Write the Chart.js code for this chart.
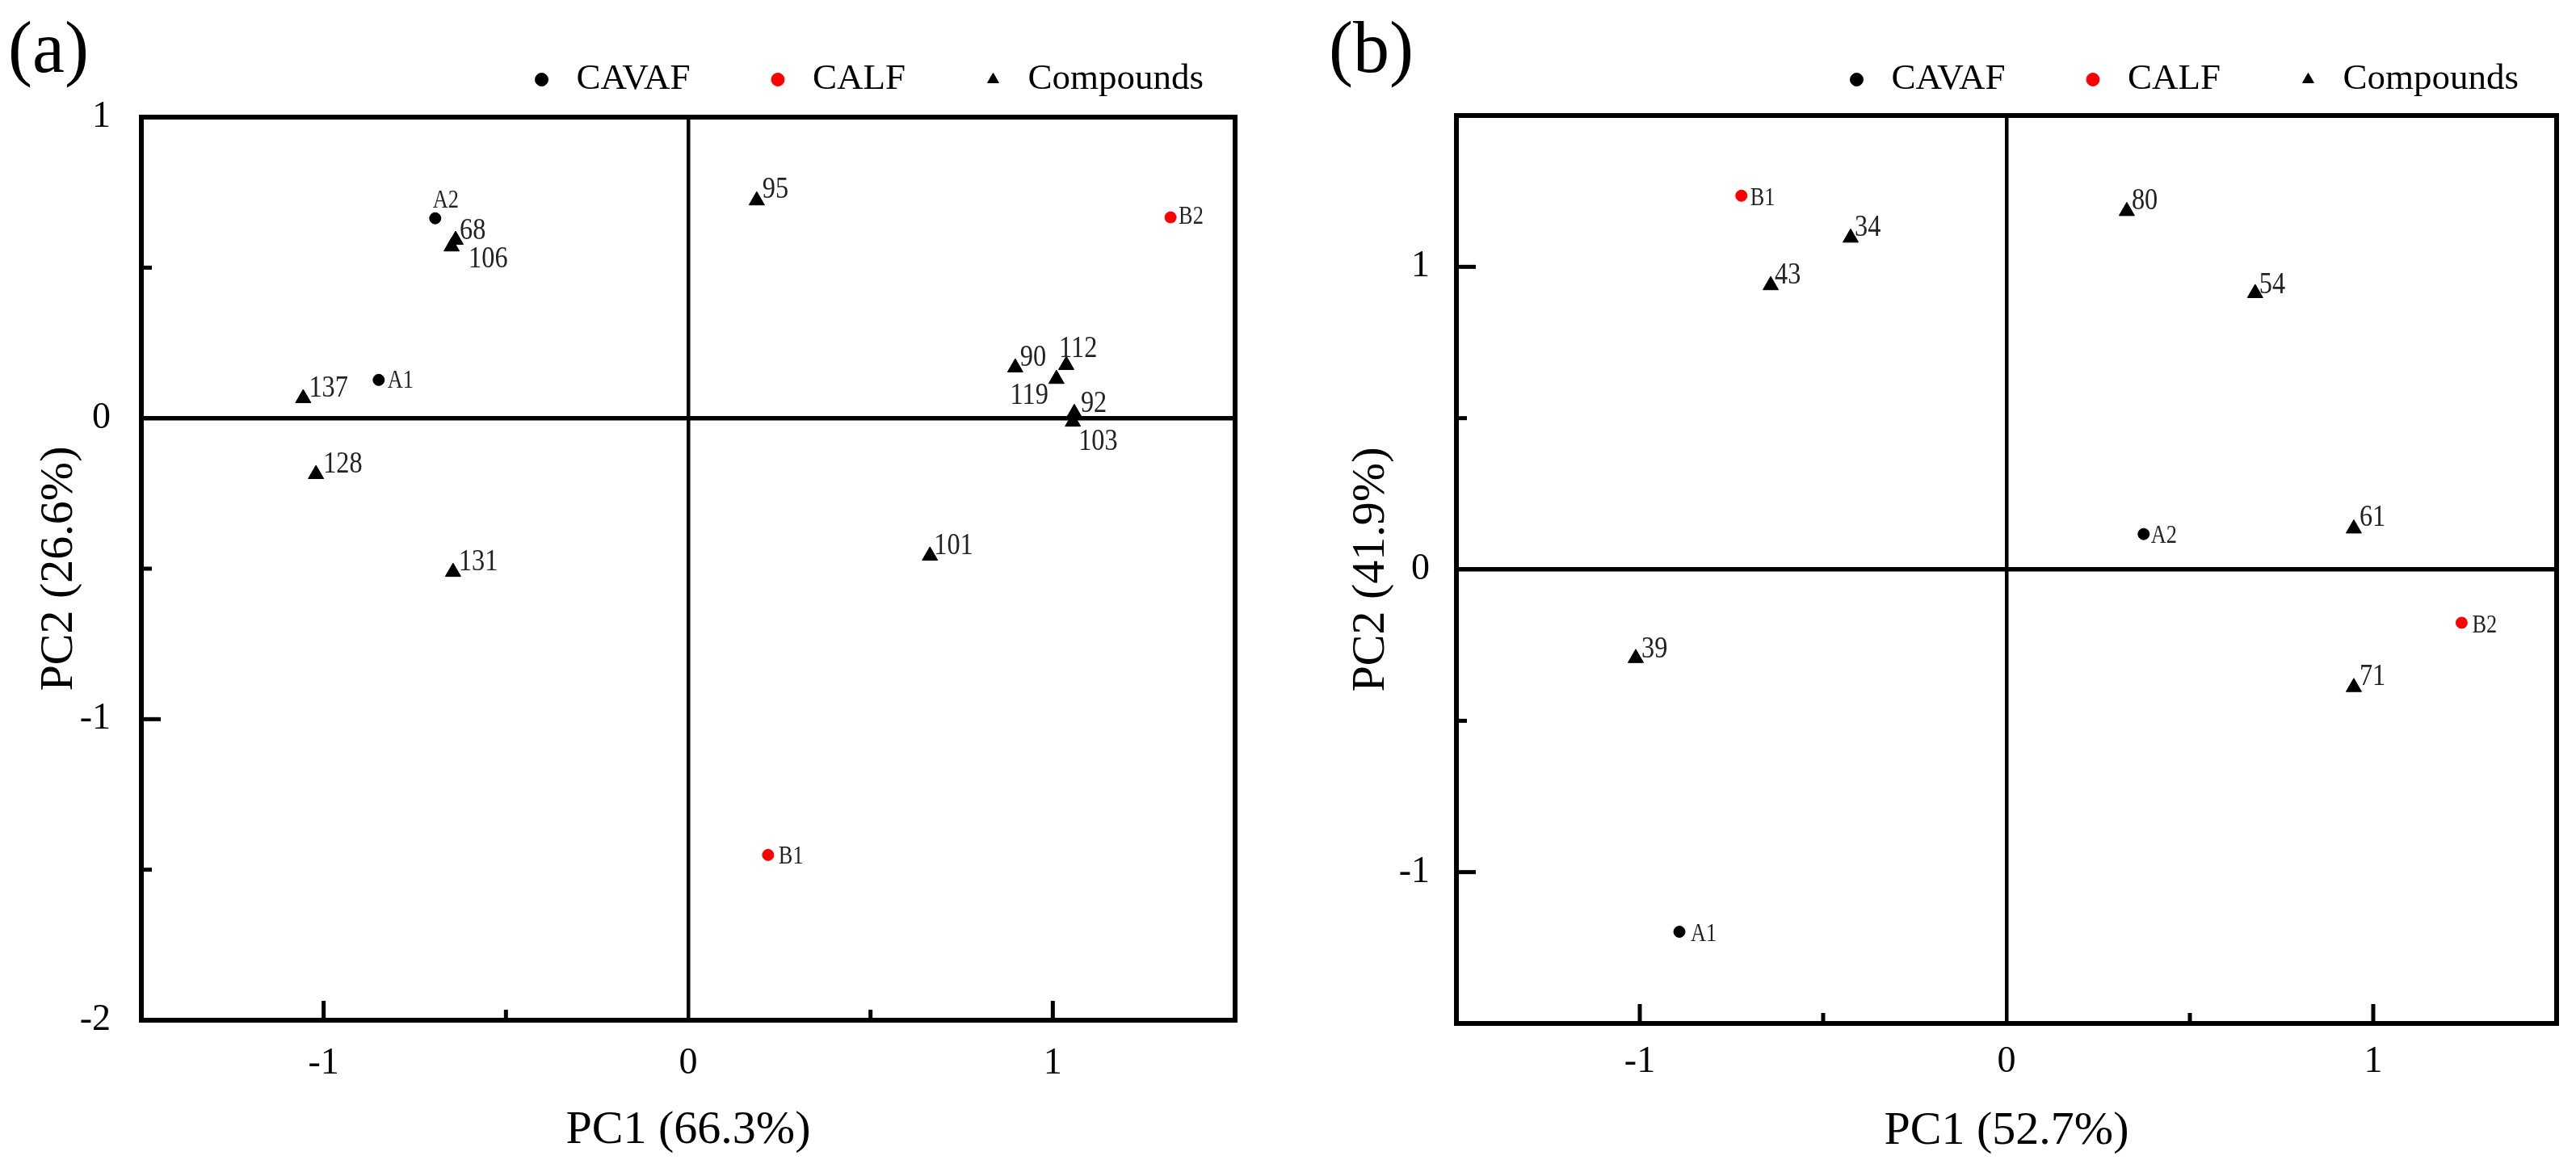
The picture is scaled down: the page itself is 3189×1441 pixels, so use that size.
<!DOCTYPE html>
<html>
<head>
<meta charset="utf-8">
<script src="https://cdn.jsdelivr.net/npm/chart.js@4.4.1/dist/chart.umd.min.js"></script>
<style>
  html, body { margin: 0; padding: 0; background: #fff; }
  body { width: 3189px; height: 1441px; position: relative; overflow: hidden; }
  .panel { position: absolute; top: -12px; width: 1578px; height: 1453px; }
  .tag { position: absolute; top: 14px; font: 90px/90px "Liberation Serif", "Times New Roman", serif; color: #000; }
</style>
</head>
<body>
<div class="panel" style="left:0"><canvas id="chartA"></canvas></div>
<div class="panel" style="left:1628px"><canvas id="chartB"></canvas></div>
<div class="tag" style="left:10px">(a)</div>
<div class="tag" style="left:1645px">(b)</div>
<script>
// series names shared by both panels
const seriesNames = ['CAVAF', 'CALF', 'Compounds'];

// panel (a)
const aCavafNames = ['A1', 'A2'];
const aCavafPC1 = [-0.849, -0.694];
const aCavafPC2 = [0.127, 0.664];
const aCalfNames = ['B1', 'B2'];
const aCalfPC1 = [0.219, 1.323];
const aCalfPC2 = [-1.451, 0.667];
const aCompNames = ['68', '95', '90', '92', '101', '103', '106', '112', '119', '128', '131', '137'];
const aCompPC1 = [-0.638, 0.188, 0.897, 1.059, 0.663, 1.055, -0.649, 1.037, 1.010, -1.021, -0.645, -1.056];
const aCompPC2 = [0.592, 0.723, 0.168, 0.017, -0.457, -0.012, 0.570, 0.176, 0.130, -0.186, -0.511, 0.066];
const aTitles = ['PC1 (66.3%)', 'PC2 (26.6%)'];
const aXMarks = [-1, -0.5, 0.5, 1];
const aYMarks = [-1.5, -1, -0.5, 0.5];

// panel (b)
const bCavafNames = ['A1', 'A2'];
const bCavafPC1 = [-0.892, 0.374];
const bCavafPC2 = [-1.197, 0.117];
const bCalfNames = ['B1', 'B2'];
const bCalfPC1 = [-0.723, 1.241];
const bCalfPC2 = [1.235, -0.176];
const bCompNames = ['34', '39', '43', '54', '61', '71', '80'];
const bCompPC1 = [-0.425, -1.011, -0.643, 0.678, 0.947, 0.947, 0.328];
const bCompPC2 = [1.096, -0.293, 0.939, 0.913, 0.135, -0.389, 1.184];
const bTitles = ['PC1 (52.7%)', 'PC2 (41.9%)'];
const bXMarks = [-1, -0.5, 0.5, 1];
const bYMarks = [-1, -0.5, 0.5, 1];

// where each point label sits relative to its marker
const aLabelShift = {
  A1: [11, 10], A2: [-3, -13], B1: [13, 11], B2: [10, 8],
  '137': [7, -2], '68': [5, -1], '106': [21, 26], '95': [7, -3], '90': [6, -2],
  '112': [-9, -10], '119': [-10, 31, 'right'], '92': [8, -1], '103': [7, 35],
  '128': [9, -2], '131': [7, -2], '101': [5, -2]
};
const bLabelShift = {
  A1: [14, 12], A2: [9, 11], B1: [11, 12], B2: [13, 12],
  '34': [5, -2], '43': [5, -2], '80': [6, -2], '54': [5, 0], '61': [7, -3], '39': [7, -1], '71': [7, -3]
};

Chart.defaults.font.family = '"Liberation Serif", "Times New Roman", serif';
Chart.defaults.color = '#000';

function pts(xs, ys) {
  return xs.map((x, i) => ({ x: x, y: ys[i] }));
}

function intLabel(value) {
  return Number.isInteger(value) ? String(value) : '';
}

function legendRoom(h) {
  return {
    id: 'legendRoom',
    beforeInit(chart) {
      const fit = chart.legend.fit;
      chart.legend.fit = function () {
        fit.call(this);
        this.height = h;
      };
    }
  };
}

// box around the plot and the short inward tick marks
function boxTicks(xMarks, yMarks) {
  return {
    id: 'boxTicks',
    afterDraw(chart) {
      const ctx = chart.ctx;
      const a = chart.chartArea;
      const sx = chart.scales.x;
      const sy = chart.scales.y;
      ctx.save();
      ctx.strokeStyle = '#000';
      ctx.lineWidth = 5;
      xMarks.forEach(v => {
        const px = sx.getPixelForValue(v);
        const len = Number.isInteger(v) ? 24 : 13;
        ctx.beginPath();
        ctx.moveTo(px, a.bottom);
        ctx.lineTo(px, a.bottom - len);
        ctx.stroke();
      });
      yMarks.forEach(v => {
        const py = sy.getPixelForValue(v);
        const len = Number.isInteger(v) ? 24 : 13;
        ctx.beginPath();
        ctx.moveTo(a.left, py);
        ctx.lineTo(a.left + len, py);
        ctx.stroke();
      });
      ctx.lineWidth = 6;
      ctx.strokeRect(a.left, a.top, a.right - a.left, a.bottom - a.top);
      ctx.restore();
    }
  };
}

function pointLabels(shifts) {
  return {
    id: 'pointLabels',
    afterDatasetsDraw(chart) {
      const ctx = chart.ctx;
      ctx.save();
      ctx.fillStyle = '#222';
      ctx.textBaseline = 'alphabetic';
      chart.data.datasets.forEach((ds, i) => {
        chart.getDatasetMeta(i).data.forEach((el, j) => {
          const name = ds.names[j];
          const s = shifts[name] || [7, -3];
          const size = /^[AB]/.test(name) ? 31 : 38;
          ctx.font = size + 'px "Liberation Serif", "Times New Roman", serif';
          ctx.textAlign = s[2] || 'left';
          ctx.save();
          ctx.translate(el.x + s[0], el.y + s[1]);
          ctx.scale(0.85, 1);
          ctx.fillText(name, 0, 0);
          ctx.restore();
        });
      });
      ctx.restore();
    }
  };
}

function zeroColor(c) {
  return c.tick && c.tick.value === 0 ? '#000' : 'rgba(0,0,0,0)';
}

function buildChart(id, p) {
  return new Chart(document.getElementById(id), {
    type: 'scatter',
    data: {
      datasets: [
        { label: seriesNames[0], names: p.cavafNames, data: pts(p.cavafX, p.cavafY),
          pointStyle: 'circle', pointRadius: 7, borderWidth: 1,
          backgroundColor: '#000', borderColor: '#000', xAxisID: 'x', yAxisID: 'y' },
        { label: seriesNames[1], names: p.calfNames, data: pts(p.calfX, p.calfY),
          pointStyle: 'circle', pointRadius: 7, borderWidth: 1,
          backgroundColor: '#ff0000', borderColor: '#ff0000', xAxisID: 'x', yAxisID: 'y' },
        { label: seriesNames[2], names: p.compNames, data: pts(p.compX, p.compY),
          pointStyle: 'triangle', pointRadius: 11, borderWidth: 1,
          backgroundColor: '#000', borderColor: '#000', xAxisID: 'x', yAxisID: 'y' }
      ]
    },
    options: {
      responsive: true,
      maintainAspectRatio: false,
      animation: false,
      events: [],
      layout: { padding: 0 },
      plugins: {
        legend: {
          position: 'top',
          align: 'end',
          labels: {
            usePointStyle: true, boxWidth: 41, boxHeight: 11.3, padding: 88,
            color: '#000', font: { size: 45 }
          }
        },
        tooltip: { enabled: false }
      },
      scales: {
        x: {
          type: 'linear', position: 'bottom', min: -1.5, max: 1.5,
          border: { display: false },
          grid: { drawTicks: false, color: zeroColor, lineWidth: c => (c.tick && c.tick.value === 0 ? 4.5 : 0) },
          ticks: { stepSize: 0.5, autoSkip: false, maxRotation: 0, padding: p.xTickPad,
                   font: { size: 46 }, color: '#000', callback: intLabel },
          title: { display: true, text: p.titles[0], color: '#000', font: { size: 58 },
                   padding: { top: 0, bottom: p.xTitlePad } },
          afterFit(s) { s.height = p.xAxisH; }
        },
        y: {
          type: 'linear', position: 'left', min: p.yMin, max: p.yMax,
          border: { display: false },
          grid: { drawTicks: false, color: zeroColor, lineWidth: c => (c.tick && c.tick.value === 0 ? 5.5 : 0) },
          ticks: { stepSize: 0.5, autoSkip: false, padding: p.yTickPad,
                   font: { size: 46 }, color: '#000', callback: intLabel },
          title: { display: true, text: p.titles[1], color: '#000', font: { size: 58 },
                   padding: { top: p.yTitlePad, bottom: 0 } },
          afterFit(s) { s.width = 175; }
        },
        yR: {
          type: 'linear', position: 'right', display: true,
          grid: { display: false }, border: { display: false }, ticks: { display: false },
          afterFit(s) { s.width = p.rightW; }
        }
      }
    },
    plugins: [legendRoom(p.top), boxTicks(p.xMarks, p.yMarks), pointLabels(p.shifts)]
  });
}

buildChart('chartA', {
  cavafNames: aCavafNames, cavafX: aCavafPC1, cavafY: aCavafPC2,
  calfNames: aCalfNames, calfX: aCalfPC1, calfY: aCalfPC2,
  compNames: aCompNames, compX: aCompPC1, compY: aCompPC2,
  titles: aTitles, yMin: -2, yMax: 1, shifts: aLabelShift, xMarks: aXMarks, yMarks: aYMarks,
  top: 157, xAxisH: 178, rightW: 49, xTickPad: 26, yTickPad: 38, yTitlePad: 39, xTitlePad: 6
});

buildChart('chartB', {
  cavafNames: bCavafNames, cavafX: bCavafPC1, cavafY: bCavafPC2,
  calfNames: bCalfNames, calfX: bCalfPC1, calfY: bCalfPC2,
  compNames: bCompNames, compX: bCompPC1, compY: bCompPC2,
  titles: bTitles, yMin: -1.5, yMax: 1.5, shifts: bLabelShift, xMarks: bXMarks, yMarks: bYMarks,
  top: 155, xAxisH: 174, rightW: 41, xTickPad: 20, yTickPad: 33, yTitlePad: 35, xTitlePad: 5
});
</script>
</body>
</html>
